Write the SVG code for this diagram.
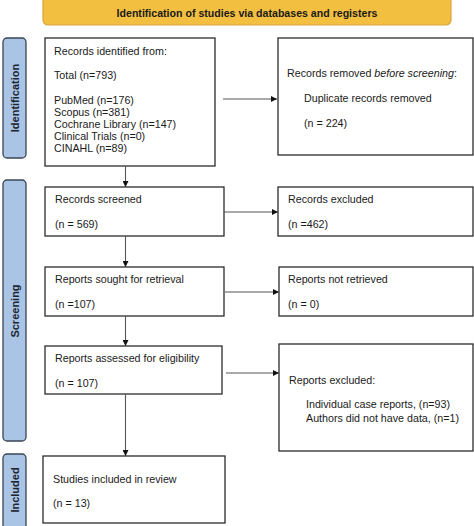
<svg xmlns="http://www.w3.org/2000/svg" width="474" height="526" viewBox="0 0 474 526">
<defs>
<marker id="ah" viewBox="0 0 10 10" refX="10" refY="5" markerWidth="6" markerHeight="6" markerUnits="userSpaceOnUse" orient="auto">
<path d="M0,0 L10,5 L0,10 z" fill="#111"/>
</marker>
<style>
text{font-family:"Liberation Sans",Arial,sans-serif;font-size:10.7px;fill:#1a1a1a}
.box{fill:#fff;stroke:#2b2b2b;stroke-width:1.3}
.side{fill:#a9c4e5;stroke:#3a4656;stroke-width:1.3}
.st{font-weight:bold;font-size:11px;fill:#1d2530}
.hd{font-weight:bold;font-size:10.6px;fill:#1a1a1a}
.conn line{stroke:#555;stroke-width:1.1;marker-end:url(#ah)}
</style>
</defs>
<rect width="474" height="526" fill="#fff"/>
<g id="header">
<rect x="43" y="-4" width="408" height="29" rx="5" fill="#f3bf40" stroke="#d8a53a" stroke-width="1.2"/>
<text class="hd" x="247" y="17" text-anchor="middle">Identification of studies via databases and registers</text>
</g>
<g id="side-identification">
<rect class="side" x="3" y="38" width="23" height="120" rx="4"/>
<text class="st" transform="translate(18.5,98) rotate(-90)" text-anchor="middle">Identification</text>
</g>
<g id="side-screening">
<rect class="side" x="3" y="180" width="23" height="261" rx="4"/>
<text class="st" transform="translate(18.5,311) rotate(-90)" text-anchor="middle">Screening</text>
</g>
<g id="side-included">
<rect class="side" x="3" y="454" width="23" height="76" rx="4"/>
<text class="st" transform="translate(18.5,490) rotate(-90)" text-anchor="middle">Included</text>
</g>
<g id="records-identified">
<rect class="box" x="45" y="38" width="170" height="128"/>
<text x="54" y="55">Records identified from:</text>
<text x="54" y="79">Total (n=793)</text>
<text x="54" y="104">PubMed (n=176)</text>
<text x="54" y="116">Scopus (n=381)</text>
<text x="54" y="128">Cochrane Library (n=147)</text>
<text x="54" y="140">Clinical Trials (n=0)</text>
<text x="54" y="152">CINAHL (n=89)</text>
</g>
<g id="records-removed">
<rect class="box" x="278" y="38" width="195" height="117"/>
<text x="287" y="77">Records removed <tspan font-style="italic">before screening</tspan>:</text>
<text x="304" y="102">Duplicate records removed</text>
<text x="304" y="127">(n = 224)</text>
</g>
<g id="records-screened">
<rect class="box" x="45" y="187" width="179" height="49"/>
<text x="55" y="203">Records screened</text>
<text x="55" y="228">(n = 569)</text>
</g>
<g id="records-excluded">
<rect class="box" x="278" y="187" width="195" height="49"/>
<text x="288" y="203">Records excluded</text>
<text x="288" y="228">(n =462)</text>
</g>
<g id="reports-sought">
<rect class="box" x="45" y="267" width="179" height="49"/>
<text x="55" y="283">Reports sought for retrieval</text>
<text x="55" y="308">(n =107)</text>
</g>
<g id="reports-not-retrieved">
<rect class="box" x="279" y="267" width="194" height="49"/>
<text x="288" y="283">Reports not retrieved</text>
<text x="288" y="308">(n = 0)</text>
</g>
<g id="reports-assessed">
<rect class="box" x="45" y="346" width="177" height="48"/>
<text x="55" y="362">Reports assessed for eligibility</text>
<text x="55" y="387">(n = 107)</text>
</g>
<g id="reports-excluded">
<rect class="box" x="279" y="344" width="194" height="107"/>
<text x="289" y="384">Reports excluded:</text>
<text x="306" y="408">Individual case reports, (n=93)</text>
<text x="306" y="422">Authors did not have data, (n=1)</text>
</g>
<g id="studies-included">
<rect class="box" x="43" y="456" width="182" height="67" stroke-width="1.6"/>
<text x="53" y="483">Studies included in review</text>
<text x="53" y="507">(n = 13)</text>
</g>
<g class="conn" id="connectors">
<line x1="223" y1="99" x2="277" y2="99"/>
<line x1="125.5" y1="166" x2="125.5" y2="187"/>
<line x1="224" y1="212" x2="278" y2="212"/>
<line x1="125.5" y1="236" x2="125.5" y2="267"/>
<line x1="225" y1="292" x2="279" y2="292"/>
<line x1="125.5" y1="316" x2="125.5" y2="346"/>
<line x1="226" y1="373" x2="279" y2="373"/>
<line x1="125.5" y1="394" x2="125.5" y2="456"/>
</g>
</svg>
